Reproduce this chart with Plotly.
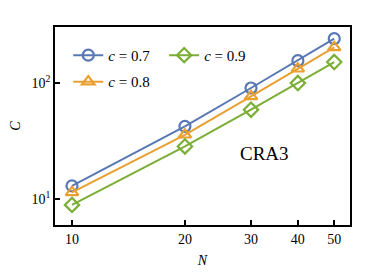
import plotly.graph_objects as go

N = [10, 20, 30, 40, 50]
c07 = [13.0, 42.3, 90.6, 155.7, 241.0]
c08 = [11.4, 35.8, 76.7, 132.7, 203.0]
c09 = [8.9, 28.4, 58.9, 100.0, 151.7]
labels = ["<i>c</i> = 0.7", "<i>c</i> = 0.8", "<i>c</i> = 0.9"]
colors = ["#5878B4", "#E8A030", "#7BAE35"]
symbols = ["circle-open", "triangle-up-open", "diamond-open"]
legends = ["legend", "legend", "legend2"]
groups = ["g1", "g2", "g3"]

FONT = "Liberation Serif"
fig = go.Figure()
for ys, lab, col, sym, lg, gp in zip([c07, c08, c09], labels, colors, symbols, legends, groups):
    fig.add_trace(go.Scatter(
        x=N, y=ys, name=lab, mode="lines+markers",
        line=dict(color=col, width=2),
        marker=dict(symbol=sym, size=11, color=col, line=dict(width=2.2, color=col)),
        legend=lg, legendgroup=gp,
    ))

axis_common = dict(type="log", showline=True, linecolor="black", linewidth=1.5,
                   mirror=True, ticks="inside", ticklen=5, tickwidth=1.5,
                   tickcolor="black", showgrid=False, zeroline=False, automargin=False,
                   tickfont=dict(family=FONT, size=14, color="black"))
fig.update_xaxes(range=[0.9547, 1.741], tickvals=N, ticktext=[str(n) for n in N],
                 title=dict(text="<i>N</i>", font=dict(family=FONT, size=14, color="black"), standoff=10),
                 **axis_common)
fig.update_yaxes(range=[0.776, 2.483], tickvals=[10, 100],
                 ticktext=["10<sup>1</sup>", "10<sup>2</sup>"],
                 title=dict(text="<i>C</i>", font=dict(family=FONT, size=14, color="black"), standoff=12),
                 **axis_common)

fig.add_annotation(x=0.80, y=0.30, xref="paper", yref="paper", text="CRA3",
                   showarrow=False, font=dict(family=FONT, size=19, color="black"))

legend_common = dict(font=dict(family=FONT, size=15, color="black"),
                     bgcolor="rgba(0,0,0,0)", yanchor="top", xanchor="left",
                     tracegroupgap=4, itemwidth=30)
fig.update_layout(
    width=366, height=272,
    margin=dict(l=47, r=24, t=19, b=55),
    paper_bgcolor="white", plot_bgcolor="white",
    font=dict(family=FONT, color="black"),
    legend=dict(x=0.045, y=0.94, **legend_common),
    legend2=dict(x=0.37, y=0.94, **legend_common),
)
fig.write_html("out.html")
